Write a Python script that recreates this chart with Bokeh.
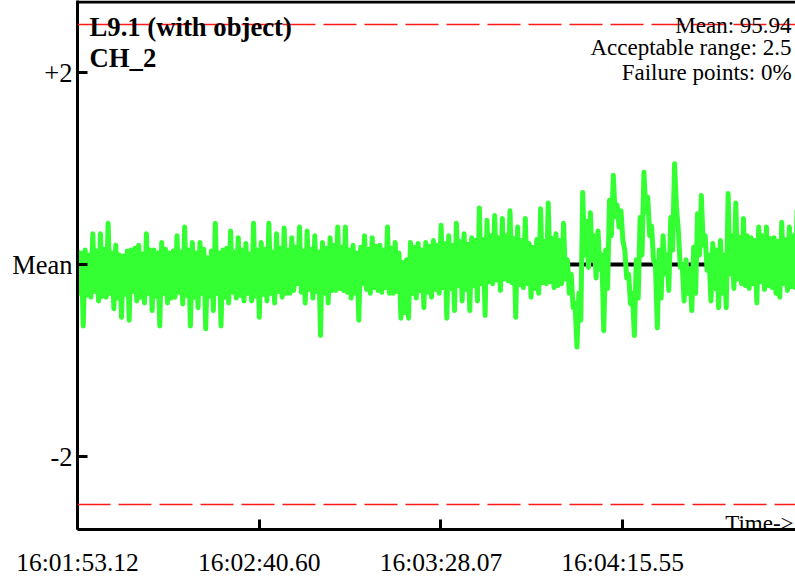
import numpy as np
from bokeh.plotting import figure
from bokeh.models import Range1d, FixedTicker, CustomJSTickFormatter, Span, Label, ColumnDataSource
from bokeh.embed import file_html
from bokeh.resources import INLINE

# ---- chart values ----
title_lines = ["L9.1 (with object)", "CH_2"]
mean_value = 95.94
acceptable_range = 2.5
failure_points_pct = 0

x_tick_seconds = [0.0, 47.48, 94.95, 142.43]          # seconds after 16:01:53.12
x_tick_labels = ["16:01:53.12", "16:02:40.60", "16:03:28.07", "16:04:15.55"]
y_tick_values = [-2, 0, 2]
y_tick_labels = ["-2", "Mean", "+2"]

sample_interval_s = 0.5
mean_line_seconds = [0.0, 170.1]

# deviation from the mean, one sample every 0.5 s
deviation = [
    0.15, -0.30, 0.12, -0.64, 0.15, -0.32, 0.10, -0.34, 0.32, -0.28,
    0.14, -0.38, 0.32, -0.33, 0.16, -0.34, 0.43, -0.30, 0.12, -0.46,
    0.20, -0.35, 0.10, -0.55, 0.09, -0.31, 0.14, -0.58, 0.15, -0.28,
    0.17, -0.38, 0.20, -0.34, 0.11, -0.40, 0.32, -0.30, 0.15, -0.48,
    0.15, -0.33, 0.12, -0.64, 0.23, -0.30, 0.16, -0.40, 0.12, -0.35,
    0.14, -0.34, 0.30, -0.29, 0.13, -0.41, 0.39, -0.32, 0.15, -0.64,
    0.23, -0.34, 0.12, -0.45, 0.23, -0.30, 0.16, -0.67, 0.07, -0.33,
    0.14, -0.48, 0.43, -0.30, 0.12, -0.64, 0.15, -0.34, 0.17, -0.40,
    0.35, -0.29, 0.13, -0.35, 0.28, -0.32, 0.15, -0.38, 0.22, -0.30,
    0.11, -0.38, 0.43, -0.33, 0.15, -0.55, 0.23, -0.31, 0.16, -0.38,
    0.43, -0.30, 0.13, -0.40, 0.32, -0.28, 0.17, -0.34, 0.38, -0.30,
    0.15, -0.30, 0.28, -0.27, 0.18, -0.20, 0.39, -0.29, 0.14, -0.40,
    0.35, -0.26, 0.16, -0.35, 0.30, -0.28, 0.13, -0.74, 0.23, -0.30,
    0.17, -0.40, 0.28, -0.27, 0.20, -0.27, 0.39, -0.25, 0.18, -0.27,
    0.39, -0.29, 0.15, -0.35, 0.20, -0.30, 0.12, -0.58, 0.18, -0.20,
    0.30, -0.26, 0.16, -0.30, 0.28, -0.24, 0.19, -0.27, 0.20, -0.29,
    0.15, -0.24, 0.39, -0.30, 0.17, -0.30, 0.23, -0.28, 0.12, -0.56,
    0.02, -0.50, 0.05, -0.56, 0.23, -0.30, 0.18, -0.35, 0.22, -0.27,
    0.15, -0.45, 0.23, -0.29, 0.19, -0.34, 0.25, -0.26, 0.20, -0.30,
    0.41, -0.24, 0.22, -0.56, 0.30, -0.25, 0.20, -0.48, 0.43, -0.22,
    0.24, -0.38, 0.32, -0.26, 0.21, -0.48, 0.28, -0.22, 0.25, -0.38,
    0.59, -0.20, 0.26, -0.53, 0.46, -0.18, 0.30, -0.20, 0.51, -0.16,
    0.28, -0.27, 0.48, -0.15, 0.30, -0.17, 0.56, -0.19, 0.27, -0.55,
    0.39, -0.21, 0.25, -0.24, 0.48, -0.20, 0.22, -0.34, 0.18, -0.25,
    0.26, -0.30, 0.58, -0.19, 0.24, -0.20, 0.64, -0.18, 0.27, -0.24,
    0.32, -0.22, 0.25, -0.20, 0.43, -0.15, 0.05, -0.30, -0.10, -0.45,
    -0.40, -0.86, -0.30, -0.58, 0.75, 0.10, 0.45, -0.03, 0.54, 0.05,
    0.30, -0.14, 0.35, -0.05, 0.10, -0.69, 0.15, -0.25, 0.67, 0.30,
    0.93, 0.50, 0.62, 0.39, 0.56, 0.25, 0.15, -0.14, -0.10, -0.41,
    -0.30, -0.74, 0.05, -0.35, 0.49, 0.10, 0.96, 0.55, 0.70, 0.30,
    0.40, 0.05, 0.00, -0.66, 0.15, -0.35, 0.30, -0.10, 0.10, -0.27,
    0.49, 0.15, 1.05, 0.60, 0.35, -0.03, 0.00, -0.38, 0.05, -0.30,
    -0.05, -0.48, 0.18, -0.30, 0.53, 0.10, 0.72, 0.20, 0.30, -0.06,
    0.10, -0.38, 0.22, -0.25, 0.15, -0.45, 0.25, -0.30, 0.10, -0.45,
    0.74, -0.10, 0.30, -0.25, 0.64, -0.15, 0.28, -0.20, 0.48, -0.22,
    0.30, -0.25, 0.28, -0.20, 0.25, -0.40, 0.39, -0.18, 0.30, -0.26,
    0.39, -0.22, 0.27, -0.24, 0.28, -0.30, 0.24, -0.34, 0.44, -0.20,
    0.26, -0.27, 0.39, -0.23, 0.30, -0.24, 0.56, -0.15,
]

t = np.arange(len(deviation)) * sample_interval_s
src = ColumnDataSource(data=dict(t=t, dev=deviation))

SERIF = "Liberation Serif"

p = figure(
    width=795, height=581,
    output_backend="svg", toolbar_location=None,
    x_range=Range1d(0, 187.6), y_range=Range1d(-2.760, 2.75),
    min_border_left=77, min_border_right=0, min_border_top=0, min_border_bottom=52,
    background_fill_color="white", border_fill_color="white",
)
p.outline_line_color = None
p.grid.visible = False

# axes
for ax in (p.xaxis[0], p.yaxis[0]):
    ax.axis_line_width = 3
    ax.axis_line_color = "black"
    ax.major_tick_line_width = 3
    ax.major_tick_line_color = "black"
    ax.major_tick_in = 10
    ax.major_tick_out = 0
    ax.minor_tick_line_color = None
    ax.major_label_text_font = SERIF
    ax.major_label_text_color = "black"

lookup_code = """
    let best = 0;
    for (let k = 0; k < vals.length; k++) {
        if (Math.abs(vals[k] - tick) < Math.abs(vals[best] - tick)) best = k;
    }
    return labels[best];
"""
p.xaxis[0].ticker = FixedTicker(ticks=x_tick_seconds)
p.xaxis[0].formatter = CustomJSTickFormatter(
    args=dict(vals=x_tick_seconds, labels=x_tick_labels), code=lookup_code)
p.xaxis[0].major_label_text_font_size = "25.5px"
p.xaxis[0].major_label_standoff = 18

p.yaxis[0].ticker = FixedTicker(ticks=y_tick_values)
p.yaxis[0].formatter = CustomJSTickFormatter(
    args=dict(vals=y_tick_values, labels=y_tick_labels), code=lookup_code)
p.yaxis[0].major_label_text_font_size = "26.5px"
p.yaxis[0].major_label_standoff = 5

# top border line
p.add_layout(Span(location=2.734, dimension="width", line_color="black", line_width=3))

# acceptable range limits
for loc in (acceptable_range, -acceptable_range):
    p.add_layout(Span(location=loc, dimension="width", line_color="#ff1a1a",
                      line_width=1.5, line_dash="33 8"))

# mean line
p.line(mean_line_seconds, [0, 0], line_color="black", line_width=4)

# measurement trace
p.line("t", "dev", source=src, line_color="#33ff33", line_width=5, line_join="round")

# texts
for txt, yy in zip(title_lines, (2.479, 2.146)):
    p.add_layout(Label(x=3.14, y=yy, text=txt, text_font=SERIF,
                       text_font_size="26.7px", text_font_style="bold", text_color="black",
                       text_baseline="alphabetic"))

info = [f"Mean: {mean_value:.2f}", f"Acceptable range: {acceptable_range}",
        f"Failure points: {failure_points_pct}%"]
for txt, yy in zip(info, (2.49, 2.26, 2.0)):
    p.add_layout(Label(x=186.57, y=yy, text=txt, text_font=SERIF, text_font_size="23px",
                       text_color="black", text_align="right", text_baseline="alphabetic"))

p.add_layout(Label(x=187.1, y=-2.698, text="Time->", text_font=SERIF, text_font_size="23px",
                   text_color="black", text_align="right", text_baseline="alphabetic"))

open("out.html", "w").write(file_html(p, INLINE))
